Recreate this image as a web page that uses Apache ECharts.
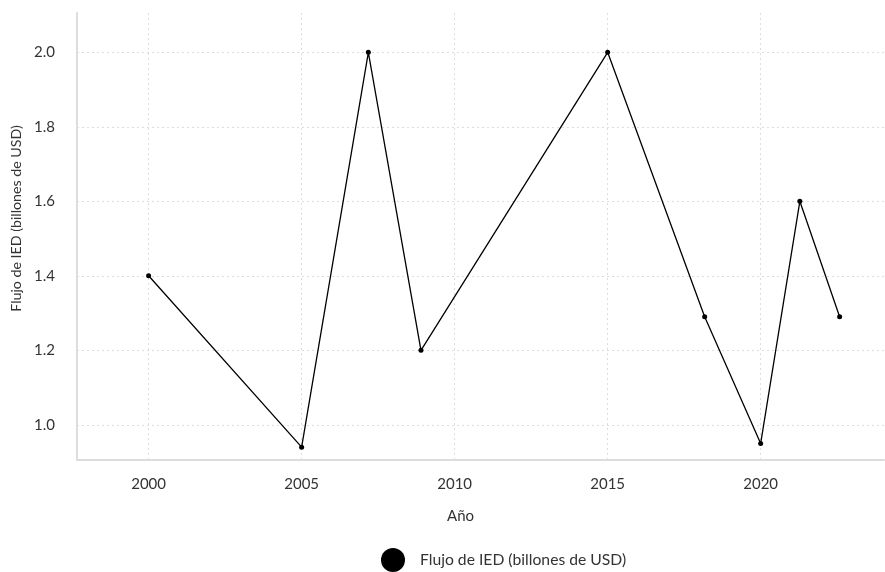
<!DOCTYPE html>
<html>
<head>
<meta charset="utf-8">
<script src="https://cdn.jsdelivr.net/npm/echarts@6/dist/echarts.min.js"></script>
<style>
html,body{margin:0;padding:0;background:#fff;}
#chart{width:885px;height:572px;}
</style>
</head>
<body>
<div id="chart"></div>
<script>
const seriesName = 'Flujo de IED (billones de USD)';
const years = [2000, 2005, 2007.18, 2008.9, 2015, 2018.17, 2020, 2021.28, 2022.58];
const values = [1.40, 0.94, 2.00, 1.20, 2.00, 1.29, 0.95, 1.60, 1.29];
const xName = 'Año';
const yName = 'Flujo de IED (billones de USD)';

const chart = echarts.init(document.getElementById('chart'));
const font = 'Lato, "Noto Sans", sans-serif';
const fs = 15;
chart.setOption({
  animation: false,
  textStyle: { fontFamily: font },
  grid: { left: 77, right: 1, top: 13, bottom: 112 },
  xAxis: {
    type: 'value',
    min: 1997.66,
    max: 2024.03,
    name: xName,
    nameLocation: 'middle',
    nameGap: 49,
    nameTextStyle: { color: '#333', fontSize: fs, fontFamily: font, padding: [0, 40, 0, 0] },
    axisLine: { show: true, lineStyle: { color: '#dddddd', width: 2 } },
    axisTick: { show: false },
    axisLabel: {
      color: '#333', fontSize: fs, margin: 17, fontFamily: font,
      showMinLabel: false, showMaxLabel: false,
      formatter: v => (Math.abs(v % 5) < 1e-6 ? String(v) : '')
    },
    splitLine: { show: true, showMinLine: false, showMaxLine: false, lineStyle: { color: '#dddddd', type: [2, 3], width: 1 } }
  },
  yAxis: {
    type: 'value',
    min: 0.9055,
    max: 2.1055,
    name: yName,
    nameLocation: 'middle',
    nameGap: 53,
    nameTextStyle: { color: '#333', fontSize: 14.2, fontFamily: font, padding: [0, 0, 0, 36] },
    axisLine: { show: true, lineStyle: { color: '#dddddd', width: 2 } },
    axisTick: { show: false },
    axisLabel: {
      color: '#333', fontSize: fs, margin: 22, fontFamily: font,
      showMinLabel: false, showMaxLabel: false,
      formatter: v => { const r = Math.round(v * 5) / 5; return Math.abs(r - v) < 1e-6 ? v.toFixed(1) : ''; }
    },
    splitLine: { show: true, showMinLine: false, showMaxLine: false, lineStyle: { color: '#dddddd', type: [2, 3], width: 1 } }
  },
  legend: {
    data: [seriesName],
    left: 376,
    top: 543,
    icon: 'circle',
    itemWidth: 44,
    itemHeight: 24,
    itemGap: 10,
    textStyle: { color: '#333', fontSize: 15.7, fontFamily: font }
  },
  series: [{
    name: seriesName,
    type: 'line',
    data: years.map((y, i) => [y, values[i]]),
    symbol: 'circle',
    symbolSize: 5,
    itemStyle: { color: '#000' },
    lineStyle: { color: '#000', width: 1.3 }
  }]
});
</script>
</body>
</html>
